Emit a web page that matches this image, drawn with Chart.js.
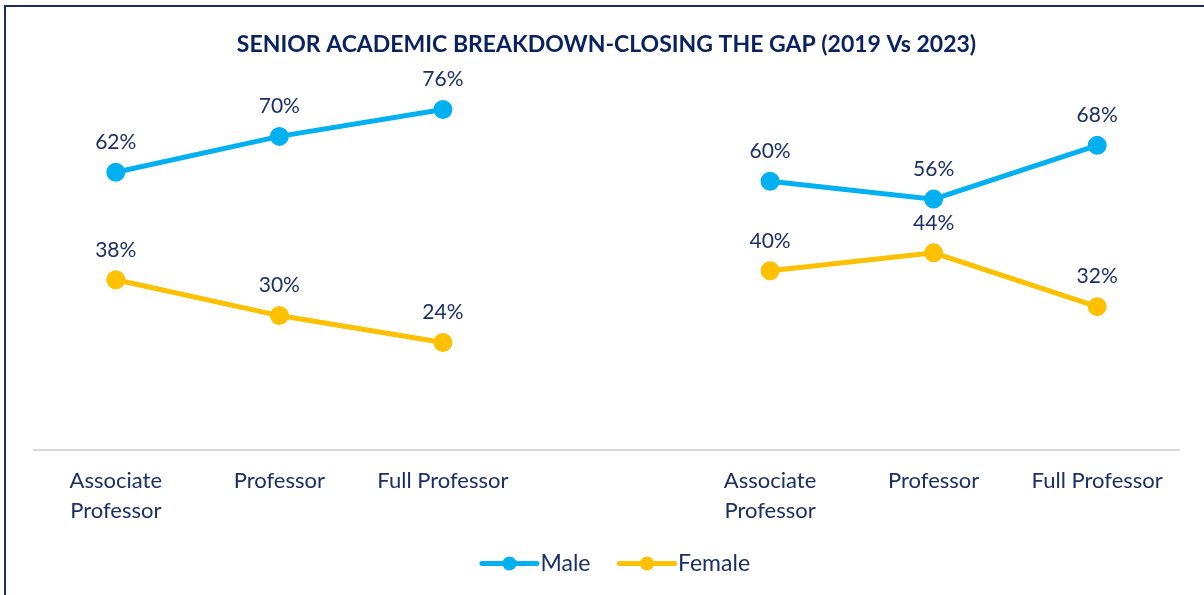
<!DOCTYPE html>
<html lang="en">
<head>
  <meta charset="UTF-8">
  <title>Senior Academic Breakdown</title>
  <style>
    *{box-sizing:border-box;margin:0;padding:0}
    body{background:#fff;width:1204px;height:595px;overflow:hidden;position:relative;font-family:Lato,sans-serif}
    /* frame: only left + top edges visible in the shot */
    .frame{position:absolute;left:4px;top:5px;width:1300px;height:700px;border:2px solid #1f2b5e}
    canvas{position:absolute;left:0;top:0}
  </style>
</head>
<body>
  <div class="frame"></div>
  <canvas id="chart" width="1204" height="595"></canvas>

  <script src="https://cdn.jsdelivr.net/npm/chart.js"></script>
  <script>
    // 2019 block | gap | 2023 block
    const categories = [['Associate','Professor'],'Professor','Full Professor','',['Associate','Professor'],'Professor','Full Professor'];
    const male   = [62, 70, 76, null, 60, 56, 68];
    const female = [38, 30, 24, null, 40, 44, 32];
    const titleText = 'SENIOR ACADEMIC BREAKDOWN-CLOSING THE GAP (2019 Vs 2023)';

    const navy = '#1b2f66';
    const blue = '#00b0f0';
    const gold = '#ffc000';
    const LEG_BOX = 66;   // legend box incl. blank lead-in (acts as item spacing)

    // value labels above each point
    const pointLabels = {
      id:'pointLabels',
      afterDatasetsDraw(chart){
        const ctx = chart.ctx;
        ctx.save();
        ctx.font = '21px Lato, sans-serif';
        ctx.fillStyle = navy;
        ctx.textAlign = 'center';
        ctx.textBaseline = 'middle';
        chart.data.datasets.forEach((ds,i)=>{
          chart.getDatasetMeta(i).data.forEach((pt,j)=>{
            if(ds.data[j]==null) return;
            ctx.fillText(ds.data[j]+'%', pt.x, pt.y-30);
          });
        });
        ctx.restore();
      }
    };

    // legend marker: line with dot, drawn by hand
    const legendMarks = {
      id:'legendMarks',
      afterDraw(chart){
        const lg = chart.legend, ctx = chart.ctx;
        if(!lg || !lg.legendHitBoxes) return;
        ctx.save();
        lg.legendHitBoxes.forEach((hb,i)=>{
          const c = chart.data.datasets[i].borderColor;
          const y = hb.top + hb.height/2;
          const x1 = hb.left + LEG_BOX + 8, x0 = x1 - 55;
          ctx.strokeStyle = c; ctx.lineWidth = 5; ctx.lineCap = 'round';
          ctx.beginPath(); ctx.moveTo(x0,y); ctx.lineTo(x1,y); ctx.stroke();
          ctx.fillStyle = c;
          ctx.beginPath(); ctx.arc((x0+x1)/2,y,7,0,Math.PI*2); ctx.fill();
        });
        ctx.restore();
      }
    };

    new Chart(document.getElementById('chart'),{
      type:'line',
      data:{
        labels:categories,
        datasets:[
          {label:'Male',data:male,borderColor:blue,backgroundColor:blue,borderWidth:5,pointRadius:7,pointHoverRadius:7,spanGaps:false},
          {label:'Female',data:female,borderColor:gold,backgroundColor:gold,borderWidth:5,pointRadius:7,pointHoverRadius:7,spanGaps:false}
        ]
      },
      options:{
        responsive:false,
        animation:false,
        layout:{padding:{left:34,right:25,top:0,bottom:10}},
        scales:{
          x:{
            offset:true,
            grid:{display:false,drawTicks:false},
            border:{display:true,color:'#d9d9d9',width:2},
            ticks:{color:navy,font:{family:'Lato',size:22,lineHeight:1.364},padding:16,maxRotation:0,autoSkip:false}
          },
          y:{display:false,min:0,max:80}
        },
        plugins:{
          title:{display:true,text:titleText,color:'#0a2260',font:{family:'Lato',size:23,weight:'bold',lineHeight:1.2},padding:{top:31,bottom:33}},
          legend:{
            position:'bottom',
            labels:{
              color:navy,font:{family:'Lato',size:23},boxWidth:LEG_BOX,boxHeight:5,padding:10,
              generateLabels(chart){
                return Chart.defaults.plugins.legend.labels.generateLabels(chart).map(l=>({...l,fillStyle:'transparent',strokeStyle:'transparent',lineWidth:0}));
              }
            }
          },
          tooltip:{enabled:false}
        }
      },
      plugins:[pointLabels,legendMarks]
    });
  </script>
</body>
</html>
